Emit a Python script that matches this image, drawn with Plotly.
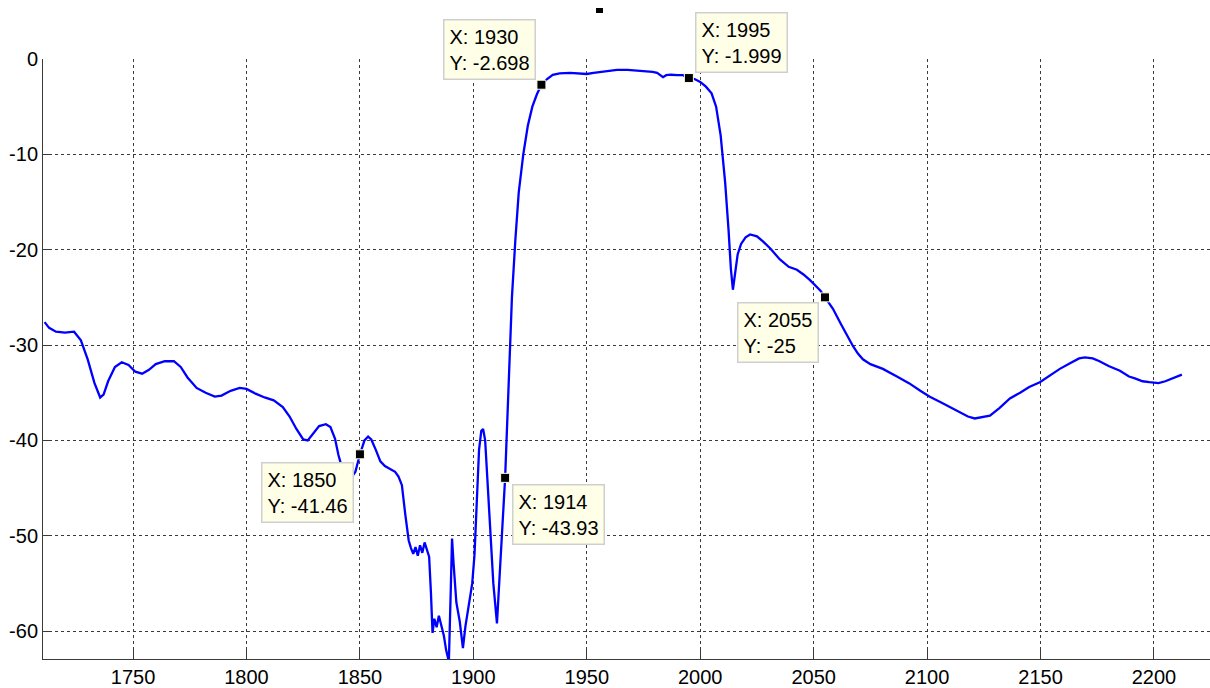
import plotly.graph_objects as go

# ---- curve data ----
x_vals = [1711, 1713, 1716, 1720, 1724, 1727, 1730, 1733, 1735.5, 1737, 1739, 1742, 1745, 1748,
          1751, 1754, 1757, 1760, 1764, 1768, 1771, 1774, 1778, 1782, 1786, 1789, 1793, 1797,
          1800, 1804, 1808, 1812, 1816, 1819, 1822, 1825, 1827, 1829.5, 1832, 1835, 1837, 1839,
          1840.5, 1842, 1844, 1846, 1848, 1850, 1852, 1853.6, 1855, 1857, 1859, 1861, 1863,
          1865.5, 1867, 1868.5, 1870, 1871.5, 1872.5, 1873.5, 1874.5, 1875.5, 1876.5, 1877.5,
          1878.5, 1879.5, 1880.5, 1881.3, 1882, 1882.8, 1883.8, 1884.8, 1886, 1887, 1888,
          1889.2, 1890, 1890.6, 1891.3, 1892.5, 1894, 1895.4, 1896.5, 1897.5, 1898.5, 1899.5,
          1900.5, 1901.5, 1902.5, 1903.5, 1904.3, 1905.2, 1906.2, 1907.5, 1908.8, 1910.4,
          1911.5, 1912.8, 1914, 1915, 1916, 1917, 1918.5, 1920, 1922, 1924, 1926, 1928, 1930,
          1932.5, 1935, 1938, 1942.6, 1946, 1950, 1953, 1955.8, 1960, 1963.3, 1968, 1974.8,
          1979, 1981, 1983.6, 1985, 1987, 1990, 1992.4, 1995, 1997.5, 2000, 2002.5, 2005, 2007,
          2009, 2011, 2012.5, 2013.5, 2014.4, 2015.3, 2016.5, 2018, 2020, 2022, 2025, 2028,
          2031, 2035, 2039, 2042.6, 2045.5, 2048.4, 2051, 2053, 2055, 2058.5, 2062, 2065,
          2067.3, 2069.5, 2071.7, 2075, 2080.5, 2086.7, 2092, 2097, 2101, 2106, 2110, 2114.5,
          2118, 2121, 2124, 2127.7, 2132, 2136.5, 2141, 2145, 2149.7, 2154, 2158.5, 2163, 2167,
          2169.6, 2173, 2176, 2180, 2185, 2189, 2191.6, 2195, 2198, 2202, 2205, 2209, 2212.3]
y_vals = [-27.6, -28.2, -28.6, -28.7, -28.6, -29.5, -31.5, -34.0, -35.5, -35.2, -33.8, -32.3, -31.8, -32.1,
          -32.8, -33.0, -32.6, -32.0, -31.7, -31.7, -32.3, -33.4, -34.5, -35.0, -35.4, -35.3, -34.8, -34.5,
          -34.6, -35.1, -35.5, -35.8, -36.5, -37.5, -38.8, -39.9, -40.0, -39.2, -38.5, -38.3, -38.6, -39.8,
          -41.5, -42.8, -43.5, -44.0, -43.3, -41.46, -40.0, -39.6, -39.9, -41.0, -42.2, -42.7, -43.0,
          -43.3, -43.8, -44.7, -47.8, -50.5, -51.3, -51.9, -51.2, -52.1, -51.0, -51.8,
          -50.7, -51.6, -52.2, -56.0, -60.2, -58.7, -59.6, -58.4, -59.5, -60.5, -62.0,
          -63.2, -56.0, -50.3, -53.0, -57.0, -59.0, -61.8, -59.5, -58.0, -56.5, -55.0,
          -52.0, -46.0, -41.0, -39.0, -38.8, -40.0, -44.0, -50.0, -55.0, -59.2,
          -55.0, -49.0, -43.93, -38.0, -31.0, -25.0, -19.0, -14.0, -10.0, -7.0, -5.0, -3.7, -2.698,
          -2.1, -1.67, -1.5, -1.46, -1.5, -1.57, -1.45, -1.36, -1.25, -1.15, -1.15, -1.25,
          -1.35, -1.46, -1.9, -1.7, -1.65, -1.7, -1.7, -1.999, -2.1, -2.4, -2.9, -3.6, -5.0,
          -8.0, -13.0, -18.0, -22.0, -24.2, -22.5, -20.5, -19.4, -18.7, -18.4, -18.6, -19.2,
          -19.9, -21.0, -21.8, -22.1, -22.6, -23.2, -23.8, -24.3, -25.0, -26.2, -27.8, -29.2,
          -30.1, -30.9, -31.5, -32.0, -32.5, -33.3, -34.0, -34.8, -35.4, -36.0, -36.5, -37.0,
          -37.5, -37.7, -37.6, -37.4, -36.6, -35.6, -35.0, -34.4, -33.9, -33.2, -32.5, -31.9, -31.4,
          -31.3, -31.4, -31.7, -32.2, -32.7, -33.3, -33.5, -33.8, -33.9, -34.0, -33.8, -33.4, -33.1]

# ---- data tips ----
tip_x = [1930, 1995, 1850, 1914, 2055]
tip_y = [-2.698, -1.999, -41.46, -43.93, -25]
tip_ax = [-5, 6, -6, 7, -6]
tip_ay = [-5, -5, 8, 6, 5]
tip_xanchor = ["right", "left", "right", "left", "right"]
tip_yanchor = ["bottom", "bottom", "top", "top", "top"]

# stray marker at the top of the picture (above the axes)
stray_x = [1955.8]
stray_y = [5.3]

x_ticks = [1750, 1800, 1850, 1900, 1950, 2000, 2050, 2100, 2150, 2200]
y_ticks = [0, -10, -20, -30, -40, -50, -60]

X_RANGE = [1710.3, 2224.7]
Y_RANGE = [-62.93, 0]

FONT = "Liberation Sans, Arial, sans-serif"

fig = go.Figure()
fig.add_trace(go.Scatter(x=x_vals, y=y_vals, mode="lines",
                         line=dict(color="#0000ff", width=2.3), hoverinfo="skip"))
fig.add_trace(go.Scatter(x=tip_x, y=tip_y, mode="markers", cliponaxis=False,
                         marker=dict(symbol="square", size=9, color="black",
                                     line=dict(color="#ffffe0", width=1)),
                         hoverinfo="skip"))

for sx, sy in zip(stray_x, stray_y):
    py = (sy - Y_RANGE[0]) / (Y_RANGE[1] - Y_RANGE[0])
    fig.add_annotation(x=sx, xref="x", y=py, yref="paper", text=".", showarrow=False,
                       width=7, height=5, bgcolor="black", borderpad=0, borderwidth=0,
                       font=dict(size=4, color="black"))

for xv, yv, ax, ay, xa, ya in zip(tip_x, tip_y, tip_ax, tip_ay, tip_xanchor, tip_yanchor):
    fig.add_annotation(x=xv, y=yv, text=f"X: {xv:g}<br>Y: {yv:g}",
                       showarrow=True, arrowcolor="rgba(0,0,0,0)", arrowwidth=0.1,
                       ax=ax, ay=ay, xanchor=xa, yanchor=ya, align="left",
                       bgcolor="#ffffe8", bordercolor="#cfcfcf", borderwidth=1.5,
                       borderpad=5, font=dict(family=FONT, size=20, color="black"))

grid_kw = dict(showgrid=True, gridcolor="#3a3a3a", gridwidth=1, griddash="3px,3px",
               zeroline=False, showline=True, linecolor="#3a3a3a", linewidth=1,
               ticks="inside", ticklen=9, tickcolor="#3a3a3a",
               tickfont=dict(family=FONT, size=20, color="black"))

fig.update_xaxes(range=X_RANGE, tickvals=x_ticks,
                 ticktext=[f"{v:g}" for v in x_ticks], **grid_kw)
fig.update_yaxes(range=Y_RANGE, tickvals=y_ticks,
                 ticktext=[f"{v:g}" for v in y_ticks], **grid_kw)

fig.update_layout(width=1210, height=688, showlegend=False,
                  paper_bgcolor="white", plot_bgcolor="white",
                  margin=dict(l=43, r=0, t=59, b=27))

fig.write_html("out.html", config={"displayModeBar": False},
               post_script="document.body.style.margin='0';document.body.style.overflow='hidden';")
